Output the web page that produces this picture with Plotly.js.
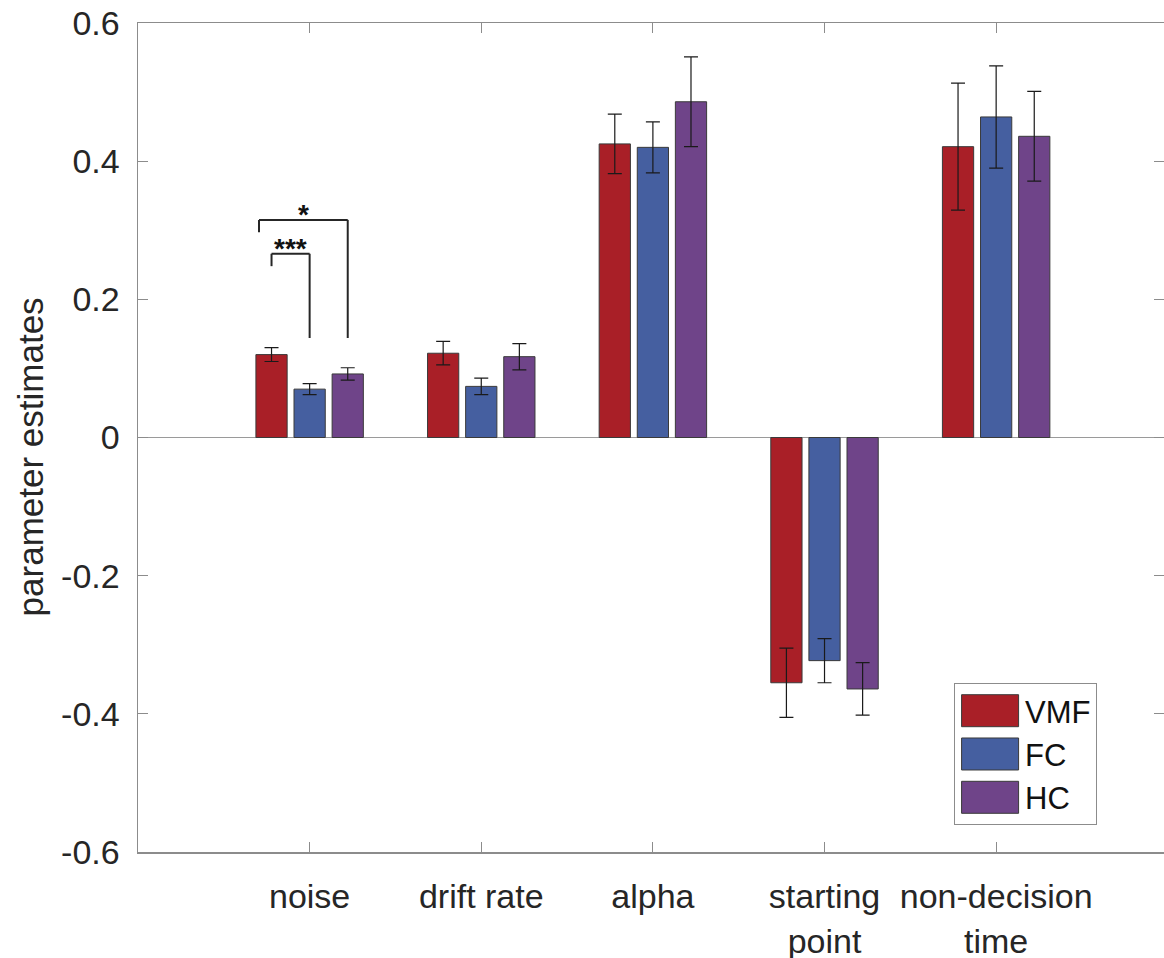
<!DOCTYPE html>
<html>
<head>
<meta charset="utf-8">
<script src="https://cdn.plot.ly/plotly-3.0.1.min.js"></script>
<style>
  html, body { margin: 0; padding: 0; background: #fff; }
  #chart { width: 1164px; height: 958px; }
</style>
</head>
<body>
<div id="chart"></div>
<script>
// ---- data ----
const categories = ["noise", "drift rate", "alpha", "starting<br>point", "non-decision<br>time"];
const categoryPositions = [1, 2, 3, 4, 5];
const seriesNames = ["VMF", "FC", "HC"];
const vmfValues = [0.120, 0.122, 0.425, -0.355, 0.421];
const vmfErrors = [0.010, 0.017, 0.043, 0.050, 0.092];
const fcValues  = [0.070, 0.074, 0.420, -0.323, 0.464];
const fcErrors  = [0.008, 0.012, 0.037, 0.032, 0.074];
const hcValues  = [0.092, 0.117, 0.486, -0.364, 0.436];
const hcErrors  = [0.009, 0.019, 0.065, 0.038, 0.065];
const yTickVals = [-0.6, -0.4, -0.2, 0, 0.2, 0.4, 0.6];
const yTickText = ["-0.6", "-0.4", "-0.2", "0", "0.2", "0.4", "0.6"];
const yAxisTitle = "parameter estimates";
// significance brackets on the "noise" group
const sigBrackets = [
  {from: 0, to: 2, top: 0.315, leftEnd: 0.297, rightEnd: 0.144, label: "*", leftShift: -0.073},
  {from: 0, to: 1, top: 0.266, leftEnd: 0.248, rightEnd: 0.144, label: "***", leftShift: 0.0}
];

const colors = ["#A91F27", "#455FA0", "#6F4489"];
const font = "Liberation Sans, Arial, Helvetica, sans-serif";
const textColor = "#262626";

const seriesValues = [vmfValues, fcValues, hcValues];
const seriesErrors = [vmfErrors, fcErrors, hcErrors];

const traces = seriesNames.map((name, i) => ({
  type: "bar",
  name: name,
  x: categoryPositions,
  y: seriesValues[i],
  marker: {color: colors[i], line: {color: "#3a3a3a", width: 1}},
  error_y: {type: "data", array: seriesErrors[i], visible: true, color: "#1a1a1a", thickness: 1.2, width: 7}
}));

const bargap = 0.334, bargroupgap = 0.18;
const slot = (1 - bargap) / seriesNames.length;
const offsetOf = s => (s - (seriesNames.length - 1) / 2) * slot;

const shapes = [];
const annotations = [];
sigBrackets.forEach(b => {
  const cat = categoryPositions[0];
  const xl = cat + offsetOf(b.from) + b.leftShift;
  const xr = cat + offsetOf(b.to);
  const line = {color: "#262626", width: 2};
  shapes.push({type: "line", xref: "x", yref: "y", x0: xl, x1: xl, y0: b.leftEnd, y1: b.top, line});
  shapes.push({type: "line", xref: "x", yref: "y", x0: xl, x1: xr, y0: b.top, y1: b.top, line});
  shapes.push({type: "line", xref: "x", yref: "y", x0: xr, x1: xr, y0: b.top, y1: b.rightEnd, line});
  annotations.push({
    xref: "x", yref: "y", x: (xl + xr) / 2, y: b.top, yanchor: "middle", yshift: 5,
    text: "<b>" + b.label + "</b>", showarrow: false,
    font: {family: font, size: 28, color: "#111"}
  });
});

// y-axis title as a rotated annotation so it can be placed exactly
annotations.push({
  xref: "paper", yref: "paper", x: 0, y: 0.476, xanchor: "center", yanchor: "middle",
  xshift: -108, textangle: -90, showarrow: false,
  text: yAxisTitle, font: {family: font, size: 35, color: textColor}
});

const layout = {
  width: 1164, height: 958,
  paper_bgcolor: "#ffffff", plot_bgcolor: "#ffffff",
  margin: {l: 138, r: 0, t: 23, b: 106, pad: 0},
  barmode: "group", bargap: bargap, bargroupgap: bargroupgap,
  showlegend: true,
  legend: {
    x: 0.7954, y: 0.2038, xanchor: "left", yanchor: "top",
    bordercolor: "#8c8c8c", borderwidth: 1, bgcolor: "#ffffff",
    font: {family: font, size: 31, color: "#111"},
    itemwidth: 60, tracegroupgap: 0
  },
  xaxis: {
    range: [0, 5.978],
    tickvals: categoryPositions, ticktext: categories,
    ticks: "inside", ticklen: 10, tickcolor: "#8c8c8c", tickwidth: 1,
    showline: true, linecolor: "#8c8c8c", linewidth: 1.5, mirror: "ticks",
    showgrid: false, zeroline: false,
    tickfont: {family: font, size: 34, color: textColor},
    ticklabelstandoff: 14,
    fixedrange: true
  },
  yaxis: {
    range: [-0.6, 0.6],
    tickvals: yTickVals, ticktext: yTickText,
    ticks: "inside", ticklen: 10, tickcolor: "#8c8c8c", tickwidth: 1,
    showline: true, linecolor: "#8c8c8c", linewidth: 1.5, mirror: "ticks",
    showgrid: false,
    zeroline: true, zerolinecolor: "#9a9a9a", zerolinewidth: 1.5,
    tickfont: {family: font, size: 34, color: textColor},
    ticklabelstandoff: 10,
    fixedrange: true
  },
  shapes: shapes,
  annotations: annotations
};

Plotly.newPlot("chart", traces, layout, {displayModeBar: false, staticPlot: true}).then(gd => {
  // enlarge legend swatches to the wide rectangles of the original figure
  document.querySelectorAll("#chart .legend .legendpoints path").forEach(p => {
    p.setAttribute("d", "M28.5,16H-28.5V-16H28.5Z");
  });
});
</script>
</body>
</html>
